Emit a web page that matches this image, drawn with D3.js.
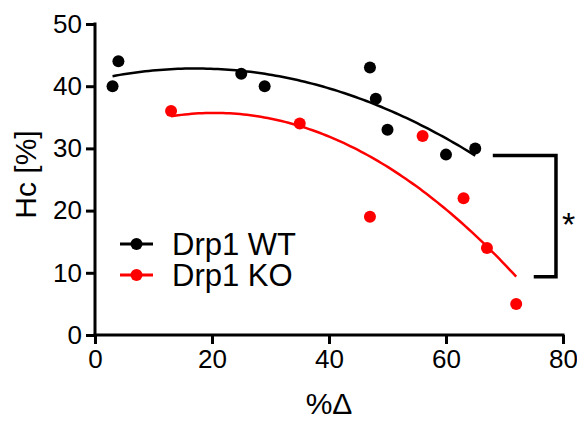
<!DOCTYPE html>
<html><head><meta charset="utf-8">
<script src="https://cdn.jsdelivr.net/npm/d3@7"></script>
<style>body{margin:0;background:#fff}svg{display:block}text{font-family:"Liberation Sans",Arial,sans-serif}</style>
</head><body>
<script>
const seriesNames = ["Drp1 WT", "Drp1 KO"];
const seriesColors = ["#000000", "#ff0000"];
const wtX = [3, 4, 25, 29, 47, 48, 50, 60, 65];
const wtY = [40, 44, 42, 40, 43, 38, 33, 29, 30];
const koX = [13, 35, 47, 56, 63, 67, 72];
const koY = [36, 34, 19, 32, 22, 14, 5];
const xTicks = [0, 20, 40, 60, 80];
const yTicks = [0, 10, 20, 30, 40, 50];
const xLabel = "%Δ";
const yLabel = "Hc [%]";
const sigLabel = "*";

const W = 577, H = 421;
const m = {l: 95, r: 15, t: 24, b: 86};
const svg = d3.select("body").append("svg").attr("width", W).attr("height", H);
const x = d3.scaleLinear().domain([0, 80]).range([m.l, 563]);
const y = d3.scaleLinear().domain([0, 50]).range([335, m.t]);

// quadratic least squares fit
function fitQuad(xs, ys) {
  let S = [0,0,0,0,0], T = [0,0,0];
  xs.forEach((xi, i) => {
    for (let k = 0; k < 5; k++) S[k] += Math.pow(xi, k);
    for (let k = 0; k < 3; k++) T[k] += ys[i] * Math.pow(xi, k);
  });
  const A = [[S[0],S[1],S[2],T[0]],[S[1],S[2],S[3],T[1]],[S[2],S[3],S[4],T[2]]];
  for (let i = 0; i < 3; i++) {
    let p = i; for (let r = i+1; r < 3; r++) if (Math.abs(A[r][i]) > Math.abs(A[p][i])) p = r;
    [A[i], A[p]] = [A[p], A[i]];
    for (let r = 0; r < 3; r++) if (r !== i) {
      const f = A[r][i] / A[i][i];
      for (let c = i; c < 4; c++) A[r][c] -= f * A[i][c];
    }
  }
  const c = A.map((row, i) => row[3] / row[i]);
  return v => c[0] + c[1]*v + c[2]*v*v;
}

const series = [
  {name: seriesNames[0], color: seriesColors[0], xs: wtX, ys: wtY},
  {name: seriesNames[1], color: seriesColors[1], xs: koX, ys: koY}
];
series.forEach(s => {
  s.f = fitQuad(s.xs, s.ys);
  const lo = d3.min(s.xs), hi = d3.max(s.xs);
  s.curve = d3.range(0, 101).map(i => { const v = lo + (hi - lo) * i / 100; return [v, s.f(v)]; });
});

const line = d3.line().x(d => x(d[0])).y(d => y(d[1]));
series.forEach(s => {
  svg.append("path").attr("d", line(s.curve)).attr("fill", "none")
    .attr("stroke", s.color).attr("stroke-width", 2.5);
  svg.append("g").selectAll("circle").data(s.xs.map((v, i) => [v, s.ys[i]])).join("circle")
    .attr("cx", d => x(d[0])).attr("cy", d => y(d[1])).attr("r", 6).attr("fill", s.color);
});

// axes
const xa = svg.append("g").attr("transform", `translate(0,${y(0)})`)
  .call(d3.axisBottom(x).tickValues(xTicks).tickSize(9).tickSizeOuter(0).tickPadding(6));
const ya = svg.append("g").attr("transform", `translate(${x(0)},0)`)
  .call(d3.axisLeft(y).tickValues(yTicks).tickSize(9).tickSizeOuter(0).tickPadding(4));
[xa, ya].forEach(a => {
  a.select(".domain").attr("stroke", "#000").attr("stroke-width", 3);
  a.selectAll(".tick line").attr("stroke", "#000").attr("stroke-width", 3);
  a.selectAll(".tick text").attr("fill", "#000").style("font-size", "26px");
});
xa.select(".domain").attr("d", `M${x(0)-1.5},0H${x(80)+1.5}`);
ya.select(".domain").attr("d", `M0,${y(50)-1.5}V${y(0)+1.5}`);

svg.append("text").attr("x", (x(0)+x(80))/2).attr("y", 414).attr("text-anchor", "middle")
  .style("font-size", "30px").text(xLabel);
svg.append("text").attr("transform", `translate(36,${(y(0)+y(50))/2-5}) rotate(-90)`)
  .attr("text-anchor", "middle").style("font-size", "30px").text(yLabel);

// significance bracket
const bTop = series[0].f(d3.max(wtX)), bBot = series[1].f(d3.max(koX));
const bx = x(78.8);
svg.append("path").attr("fill", "none").attr("stroke", "#000").attr("stroke-width", 3.5)
  .attr("d", `M${x(68)},${y(bTop)}H${bx}V${y(bBot)}H${x(75)}`);
svg.append("text").attr("x", bx + 6).attr("y", (y(bTop)+y(bBot))/2 + 20)
  .style("font-size", "34px").text(sigLabel);

// legend
const lg = svg.append("g");
series.forEach((s, i) => {
  const ly = 244 + i * 31;
  lg.append("line").attr("x1", 120).attr("x2", 153).attr("y1", ly).attr("y2", ly)
    .attr("stroke", s.color).attr("stroke-width", 3);
  lg.append("circle").attr("cx", 136.5).attr("cy", ly).attr("r", 6).attr("fill", s.color);
  lg.append("text").attr("x", 172).attr("y", ly + 11).style("font-size", "31px").text(s.name);
});
</script>
</body></html>
